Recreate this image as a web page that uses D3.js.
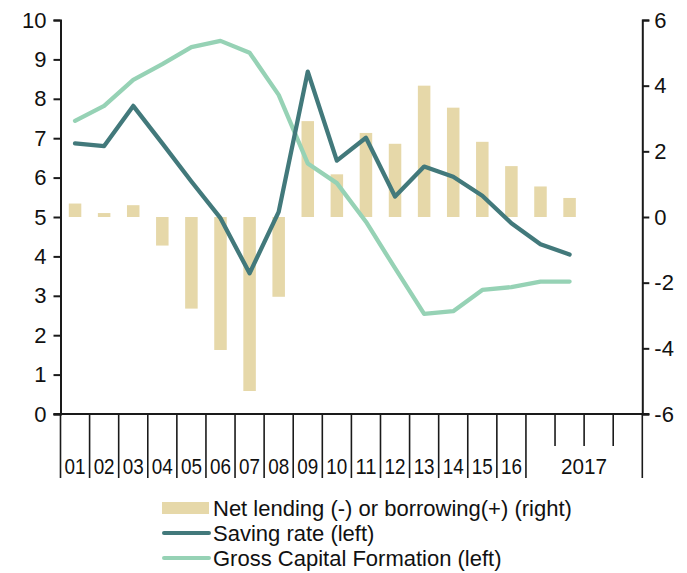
<!DOCTYPE html>
<html>
<head>
<meta charset="utf-8">
<script src="https://cdn.jsdelivr.net/npm/d3@7"></script>
<style>
  body { margin: 0; background: #fff; }
  svg { display: block; font-family: "Liberation Sans", Arial, sans-serif; }
</style>
</head>
<body>
<div id="chart"></div>
<script>
// categories: 16 years + 4 sub-periods of 2017
const categories = ['01','02','03','04','05','06','07','08','09','10','11','12','13','14','15','16','17a','17b','17c','17d'];
const yearLabels = ['01','02','03','04','05','06','07','08','09','10','11','12','13','14','15','16'];
const groupLabel = '2017';

// values (18 observations)
const netLending = [0.41, 0.12, 0.36, -0.87, -2.79, -4.05, -5.3, -2.43, 2.92, 1.30, 2.56, 2.23, 4.0, 3.33, 2.29, 1.55, 0.93, 0.58];
const savingRate = [6.87, 6.80, 7.82, 6.87, 5.90, 4.97, 3.57, 5.13, 8.69, 6.43, 7.01, 5.52, 6.28, 6.02, 5.54, 4.84, 4.31, 4.05];
const grossCapital = [7.44, 7.82, 8.48, 8.88, 9.31, 9.47, 9.17, 8.10, 6.36, 5.86, 4.88, 3.70, 2.54, 2.61, 3.15, 3.22, 3.36, 3.36];

const leftTicks = [0,1,2,3,4,5,6,7,8,9,10];
const rightTicks = [-6,-4,-2,0,2,4,6];

const legendItems = [
  { label: 'Net lending (-) or borrowing(+) (right)', kind: 'bar' },
  { label: 'Saving rate (left)', kind: 'saving' },
  { label: 'Gross Capital Formation (left)', kind: 'gcf' },
];

const COLORS = { bar: '#e6d8a9', saving: '#42797b', gcf: '#96d2b5', axis: '#1a1a1a', text: '#111' };

const W = 687, H = 573;
const PLOT = { left: 60.5, right: 642.3, top: 20, bottom: 414 };

const svg = d3.select('#chart').append('svg').attr('width', W).attr('height', H);

const x = d3.scaleBand().domain(categories).range([PLOT.left, PLOT.right]).padding(0);
const yL = d3.scaleLinear().domain([0, 10]).range([PLOT.bottom, PLOT.top]);
const yR = d3.scaleLinear().domain([-6, 6]).range([PLOT.bottom, PLOT.top]);

const bw = x.bandwidth();
const barW = bw * 0.43;
const fmt = d => String(d); // plain hyphen minus, like the source

// Bars (right axis)
svg.append('g').selectAll('rect')
  .data(netLending)
  .join('rect')
  .attr('x', (d, i) => x(categories[i]) + (bw - barW) / 2)
  .attr('width', barW)
  .attr('y', d => yR(Math.max(0, d)))
  .attr('height', d => Math.abs(yR(d) - yR(0)))
  .attr('fill', COLORS.bar);

// Lines (left axis)
const line = d3.line()
  .x((d, i) => x(categories[i]) + bw / 2)
  .y(d => yL(d));

svg.append('path')
  .datum(grossCapital)
  .attr('d', line)
  .attr('fill', 'none')
  .attr('stroke', COLORS.gcf)
  .attr('stroke-width', 4.3)
  .attr('stroke-linejoin', 'round')
  .attr('stroke-linecap', 'round');

svg.append('path')
  .datum(savingRate)
  .attr('d', line)
  .attr('fill', 'none')
  .attr('stroke', COLORS.saving)
  .attr('stroke-width', 4.3)
  .attr('stroke-linejoin', 'round')
  .attr('stroke-linecap', 'round');

// Left axis
const leftAxis = svg.append('g')
  .attr('transform', `translate(${PLOT.left},0)`)
  .call(d3.axisLeft(yL).tickValues(leftTicks).tickSize(7).tickPadding(7).tickFormat(fmt));

// Right axis
const rightAxis = svg.append('g')
  .attr('transform', `translate(${PLOT.right},0)`)
  .call(d3.axisRight(yR).tickValues(rightTicks).tickSize(7).tickPadding(5).tickFormat(fmt));

[leftAxis, rightAxis].forEach(a => {
  a.select('.domain').attr('stroke', COLORS.axis).attr('stroke-width', 2);
  a.selectAll('.tick line').attr('stroke', COLORS.axis).attr('stroke-width', 2);
  a.selectAll('.tick text')
    .attr('font-size', 22)
    .attr('font-family', '"Liberation Sans", Arial, sans-serif')
    .attr('fill', COLORS.text);
});

// X axis baseline
const xg = svg.append('g');
xg.append('line')
  .attr('x1', PLOT.left - 7).attr('x2', PLOT.right + 7)
  .attr('y1', PLOT.bottom).attr('y2', PLOT.bottom)
  .attr('stroke', COLORS.axis).attr('stroke-width', 2);

// Category boundaries: long between labelled groups, short inside 2017
const boundaries = categories.map(c => x(c)).concat([PLOT.right]);
boundaries.forEach((bx, i) => {
  const inside2017 = i > yearLabels.length && i < categories.length;
  xg.append('line')
    .attr('x1', bx).attr('x2', bx)
    .attr('y1', PLOT.bottom)
    .attr('y2', inside2017 ? 446 : 478)
    .attr('stroke', COLORS.axis)
    .attr('stroke-width', 1.6);
});

// Year labels
xg.selectAll('text.yr')
  .data(yearLabels)
  .join('text')
  .attr('class', 'yr')
  .attr('x', d => x(d) + bw / 2)
  .attr('y', 474)
  .attr('text-anchor', 'middle')
  .attr('font-size', 22)
  .attr('textLength', 21)
  .attr('lengthAdjust', 'spacingAndGlyphs')
  .attr('fill', COLORS.text)
  .text(d => d);

const g2017 = categories.slice(yearLabels.length);
xg.append('text')
  .attr('x', (x(g2017[0]) + PLOT.right) / 2)
  .attr('y', 474)
  .attr('text-anchor', 'middle')
  .attr('font-size', 22)
  .attr('textLength', 46)
  .attr('lengthAdjust', 'spacingAndGlyphs')
  .attr('fill', COLORS.text)
  .text(groupLabel);

// Legend
const legend = svg.append('g').attr('transform', 'translate(162,0)');
const rowY = [508, 533, 558];
legendItems.forEach((item, i) => {
  const cy = rowY[i];
  if (item.kind === 'bar') {
    legend.append('rect')
      .attr('x', 0).attr('y', cy - 6).attr('width', 47).attr('height', 12)
      .attr('fill', COLORS.bar);
  } else {
    legend.append('line')
      .attr('x1', 2).attr('x2', 47).attr('y1', cy).attr('y2', cy)
      .attr('stroke', item.kind === 'saving' ? COLORS.saving : COLORS.gcf)
      .attr('stroke-width', 4)
      .attr('stroke-linecap', 'round');
  }
  legend.append('text')
    .attr('x', 51)
    .attr('y', cy + 7.5)
    .attr('font-size', 22)
    .attr('fill', COLORS.text)
    .text(item.label);
});
</script>
</body>
</html>
